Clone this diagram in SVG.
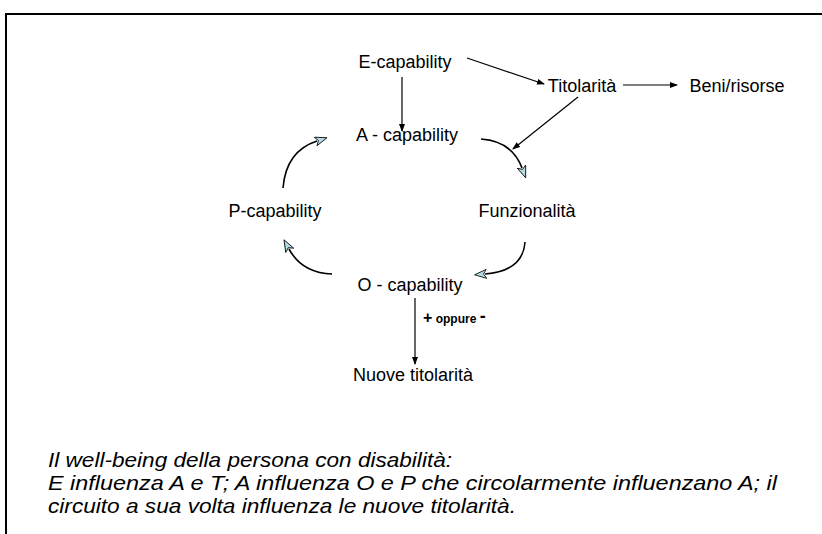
<svg xmlns="http://www.w3.org/2000/svg" width="822" height="534" viewBox="0 0 822 534">
<style>
.lbl{font-family:"Liberation Sans",Arial,sans-serif;font-size:18px;fill:#000;text-anchor:middle}
.cap{font-family:"Liberation Sans",Arial,sans-serif;font-size:21px;font-style:italic;fill:#000}
.ln{fill:none;stroke:#000;stroke-width:1.2}
.cv{fill:none;stroke:#000;stroke-width:1.6}
</style>
<defs>
<marker id="arr" viewBox="0 0 8 6" refX="7" refY="3" markerWidth="8" markerHeight="6" markerUnits="userSpaceOnUse" orient="auto">
<path d="M0,0 L8,3 L0,6 z" fill="#000"/>
</marker>
<marker id="blue" viewBox="0 0 13 10" refX="2" refY="5" markerWidth="13" markerHeight="10" markerUnits="userSpaceOnUse" orient="auto">
<path d="M0.5,0.5 L12.5,5 L0.5,9.5 L3.5,5 z" fill="#b3dce3" stroke="#000" stroke-width="0.8" stroke-linejoin="round"/>
</marker>
</defs>
<rect x="0" y="0" width="822" height="534" fill="#fff"/>
<rect x="6" y="14" width="830" height="540" fill="none" stroke="#000" stroke-width="2"/>

<g id="connectors">
<line class="ln" x1="402" y1="77" x2="402" y2="131" marker-end="url(#arr)"/>
<line class="ln" x1="467" y1="58" x2="544" y2="84" marker-end="url(#arr)"/>
<line class="ln" x1="623" y1="85" x2="677" y2="85" marker-end="url(#arr)"/>
<line class="ln" x1="578" y1="97" x2="513" y2="149" marker-end="url(#arr)"/>
<line class="ln" x1="415" y1="298" x2="415" y2="364" marker-end="url(#arr)"/>
<path class="cv" d="M283,188 Q286,151 317,141" marker-end="url(#blue)"/>
<path class="cv" d="M481,139 Q512,141 522,168" marker-end="url(#blue)"/>
<path class="cv" d="M525,242 Q523,271 485,274" marker-end="url(#blue)"/>
<path class="cv" d="M332,274 Q302,273 289,249" marker-end="url(#blue)"/>
</g>

<g id="n-e"><text class="lbl" x="405" y="68">E-capability</text></g>
<g id="n-tit"><text class="lbl" x="582" y="92">Titolarità</text></g>
<g id="n-beni"><text class="lbl" x="737" y="92">Beni/risorse</text></g>
<g id="n-a"><text class="lbl" x="407" y="141">A - capability</text></g>
<g id="n-p"><text class="lbl" x="275" y="217">P-capability</text></g>
<g id="n-f"><text class="lbl" x="527" y="217">Funzionalità</text></g>
<g id="n-o"><text class="lbl" x="410" y="291">O - capability</text></g>
<g id="n-nuove"><text class="lbl" x="413" y="381">Nuove titolarità</text></g>
<g id="lbl-oppure"><text x="423" y="323" font-family="Liberation Sans,Arial,sans-serif" font-weight="bold" fill="#000"><tspan font-size="16">+</tspan><tspan font-size="12"> oppure </tspan><tspan font-size="18" dy="-1">-</tspan></text></g>

<g id="caption">
<text class="cap" x="48" y="467" textLength="404" lengthAdjust="spacingAndGlyphs">Il well-being della persona con disabilità:</text>
<text class="cap" x="48" y="490" textLength="729" lengthAdjust="spacingAndGlyphs">E influenza A e T; A influenza O e P che circolarmente influenzano A; il</text>
<text class="cap" x="48" y="513" textLength="468" lengthAdjust="spacingAndGlyphs">circuito a sua volta influenza le nuove titolarità.</text>
</g>
</svg>
